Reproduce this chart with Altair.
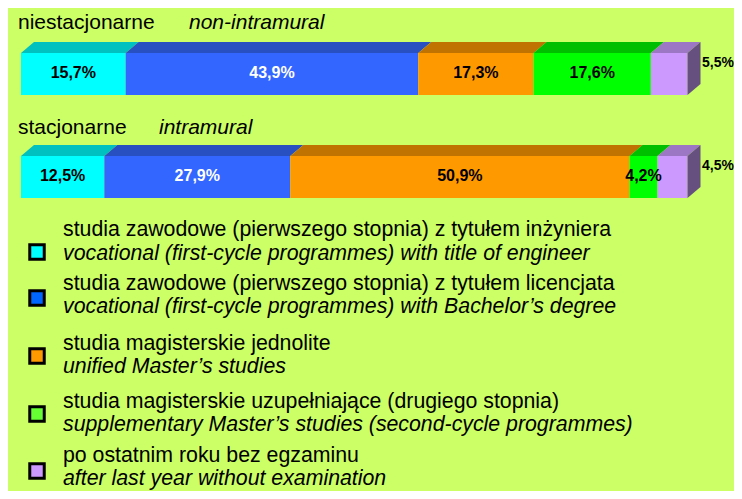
import altair as alt
import pandas as pd

# ---------------- data ----------------
groups_pl = ["niestacjonarne", "stacjonarne"]
groups_en = ["non-intramural", "intramural"]
non_intramural = [15.7, 43.9, 17.3, 17.6, 5.5]
intramural = [12.5, 27.9, 50.9, 4.2, 4.5]
series_pl = [
    "studia zawodowe (pierwszego stopnia) z tytułem inżyniera",
    "studia zawodowe (pierwszego stopnia) z tytułem licencjata",
    "studia magisterskie jednolite",
    "studia magisterskie uzupełniające (drugiego stopnia)",
    "po ostatnim roku bez egzaminu",
]
series_en = [
    "vocational (first-cycle programmes) with title of engineer",
    "vocational (first-cycle programmes) with Bachelor’s degree",
    "unified Master’s studies",
    "supplementary Master’s studies (second-cycle programmes)",
    "after last year without examination",
]

# ---------------- styles / layout ----------------
front_colors = ["#00FFFF", "#3366FF", "#FF9900", "#00FF00", "#CC99FF"]
top_colors = ["#00C0C0", "#2850C0", "#C07300", "#00BE00", "#9C78C4"]
side_color = "#665080"
legend_colors = ["#00FFFF", "#0066FF", "#FF9900", "#66FF33", "#CC99FF"]
label_colors = ["black", "white", "black", "black", "black"]
BG = "#CCFF66"
FONT = "Liberation Sans"

W, H = 726, 483          # whole svg (page margin 8px around)
X0 = 13.0                # svg px of value 0
PXU = 666.5 / 100.0      # px per percent unit
XDOM = [-X0 / PXU, (W - X0) / PXU]
DX = 13.0 / PXU          # depth offset in units
DY = 11.0                # depth offset in px
BAR_H = 42
bar_tops = [45, 148]
title_base = [21, 126]
title_x_pl = [10, 10]
title_x_en = [181, 151]

legend_sq_y = [244, 290, 348, 406, 463]
legend_l1 = [228, 282, 342, 400, 454]
legend_l2 = [252, 305, 365, 423, 477]

front, tops, sides, labels = [], [], [], []
for gi, vals in enumerate([non_intramural, intramural]):
    top = bar_tops[gi]
    cum = 0.0
    for si, v in enumerate(vals):
        a, b = cum, cum + v
        cum = b
        key = f"{gi}-{si}"
        front.append(dict(x=a, x2=b, y=top, y2=top + BAR_H, c=front_colors[si]))
        tops.append(dict(k=key, y=top, x=a, x2=b, c=top_colors[si]))
        tops.append(dict(k=key, y=top - DY, x=a + DX, x2=b + DX, c=top_colors[si]))
        txt = f"{v:.1f}".replace(".", ",") + "%"
        if si == len(vals) - 1:
            labels.append(dict(x=cum + DX + 1.5 / PXU, y=top + 9.5, t=txt,
                               c="black", al="left"))
        else:
            labels.append(dict(x=(a + b) / 2, y=top + BAR_H / 2 - 1.5, t=txt,
                               c=label_colors[si], al="center"))
    sides.append(dict(k=str(gi), x=cum, y=top, y2=top + BAR_H))
    sides.append(dict(k=str(gi), x=cum + DX, y=top - DY, y2=top + BAR_H - DY))

xs = alt.Scale(domain=XDOM, nice=False, zero=False)

front_layer = alt.Chart(pd.DataFrame(front)).mark_rect().encode(
    x=alt.X("x:Q", scale=xs, axis=None),
    x2="x2:Q",
    y=alt.Y("y:Q", scale=None, axis=None),
    y2="y2:Q",
    color=alt.Color("c:N", scale=None),
)

top_layer = alt.Chart(pd.DataFrame(tops)).mark_area(orient="horizontal").encode(
    y=alt.Y("y:Q", scale=None, axis=None),
    x=alt.X("x:Q", scale=xs, axis=None),
    x2="x2:Q",
    detail="k:N",
    color=alt.Color("c:N", scale=None),
)

side_layer = alt.Chart(pd.DataFrame(sides)).mark_area(
    orient="vertical", color=side_color
).encode(
    x=alt.X("x:Q", scale=xs, axis=None),
    y=alt.Y("y:Q", scale=None, axis=None),
    y2="y2:Q",
    detail="k:N",
)

lab_df = pd.DataFrame(labels)
lab_center = alt.Chart(lab_df[lab_df.al == "center"]).mark_text(
    font=FONT, fontSize=16, fontWeight="bold", align="center", baseline="middle"
).encode(
    x=alt.X("x:Q", scale=xs, axis=None),
    y=alt.Y("y:Q", scale=None, axis=None),
    text="t:N",
    color=alt.Color("c:N", scale=None),
)
lab_left = alt.Chart(lab_df[lab_df.al == "left"]).mark_text(
    font=FONT, fontSize=14, fontWeight="bold", align="left", baseline="middle",
    color="black",
).encode(
    x=alt.X("x:Q", scale=xs, axis=None),
    y=alt.Y("y:Q", scale=None, axis=None),
    text="t:N",
)

titles = pd.DataFrame(dict(
    t=groups_pl + groups_en,
    x=title_x_pl + title_x_en,
    y=title_base + title_base,
    s=["normal", "normal", "italic", "italic"],
))
title_pl = alt.Chart(titles[titles.s == "normal"]).mark_text(
    font=FONT, fontSize=21, align="left", baseline="alphabetic", color="black"
).encode(x=alt.X("x:Q", scale=None, axis=None),
         y=alt.Y("y:Q", scale=None, axis=None), text="t:N")
title_en = alt.Chart(titles[titles.s == "italic"]).mark_text(
    font=FONT, fontSize=21, fontStyle="italic", align="left",
    baseline="alphabetic", color="black"
).encode(x=alt.X("x:Q", scale=None, axis=None),
         y=alt.Y("y:Q", scale=None, axis=None), text="t:N")

leg = pd.DataFrame(dict(pl=series_pl, en=series_en, c=legend_colors,
                        ys=legend_sq_y, y1=legend_l1, y2=legend_l2,
                        xs=[29] * 5, xt=[55] * 5))
leg_sq = alt.Chart(leg).mark_point(
    shape="square", filled=True, size=210, stroke="black", strokeWidth=3,
    opacity=1,
).encode(
    x=alt.X("xs:Q", scale=None, axis=None),
    y=alt.Y("ys:Q", scale=None, axis=None),
    fill=alt.Fill("c:N", scale=None),
)
leg_t1 = alt.Chart(leg).mark_text(
    font=FONT, fontSize=21.3, align="left", baseline="alphabetic", color="black"
).encode(x=alt.X("xt:Q", scale=None, axis=None),
         y=alt.Y("y1:Q", scale=None, axis=None), text="pl:N")
leg_t2 = alt.Chart(leg).mark_text(
    font=FONT, fontSize=21.3, fontStyle="italic", align="left",
    baseline="alphabetic", color="black"
).encode(x=alt.X("xt:Q", scale=None, axis=None),
         y=alt.Y("y2:Q", scale=None, axis=None), text="en:N")

chart = alt.layer(
    front_layer, top_layer, side_layer, lab_center, lab_left,
    title_pl, title_en, leg_sq, leg_t1, leg_t2,
).properties(
    width=W, height=H, padding=0, background=BG,
    autosize=alt.AutoSizeParams(type="none"),
).configure_view(stroke=None)

chart.save("out.html", embed_options={"renderer": "svg", "actions": False})
